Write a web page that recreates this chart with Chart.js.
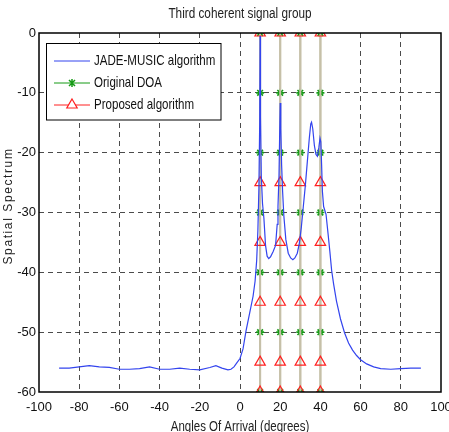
<!DOCTYPE html>
<html>
<head>
<meta charset="utf-8">
<script src="https://cdn.jsdelivr.net/npm/chart.js@4/dist/chart.umd.min.js"></script>
<style>
  html, body { margin: 0; padding: 0; background: #fff; }
  #wrap { width: 449px; height: 432px; }
</style>
</head>
<body>
<div id="wrap"><canvas id="chart" width="449" height="432"></canvas></div>
<script>
// spectrum
const angles = [-90, -85, -80, -75, -70, -65, -60, -55, -50, -45, -40, -35, -30, -25, -20, -15, -12, -9, -6, -4.5, -3, -1.5, 0,
  1.5, 3, 5, 6.5, 7.5, 8.3, 8.9, 9.4, 9.8, 10, 10.2, 10.6, 11.2, 11.9, 12.7, 13.5, 14.3, 15.2, 16.5, 17.7, 18.5, 18.9, 19.4, 19.8,
  20, 20.3, 20.7, 21.2, 21.8, 22.8, 24, 25.2, 26.3, 27.3, 28.5, 29.5, 30.5, 31.5, 32.5, 33.5, 34.5, 35.2, 35.6, 36.2, 37, 37.8,
  38.5, 39.2, 39.8, 40.2, 40.6, 41, 41.6, 42.8, 43.8, 44.7, 45.6, 46.6, 48, 50, 52, 54, 56, 58, 60, 63, 66.5, 70, 75, 80, 85, 90];
const spectrum = [-56.0, -56.0, -55.8, -55.6, -55.8, -55.9, -56.2, -56.2, -56.1, -55.8, -56.2, -56.2, -56.0, -56.2, -56.3, -55.9, -55.6, -56.0, -56.3, -56.2, -55.8, -55.1, -54.4,
  -52.8, -49.8, -46.5, -44.0, -41.5, -38.0, -33.0, -26.0, -15.0, -0.5, -14.0, -24.0, -28.5, -31.0, -35.5, -37.3, -37.7, -37.4, -36.5, -35.5, -32.0, -29.0, -24.0, -15.5,
  -11.7, -16.0, -22.0, -26.5, -30.5, -34.5, -36.8, -37.6, -37.9, -37.6, -36.8, -35.2, -32.5, -29.0, -25.5, -21.5, -17.5, -15.2, -14.9, -16.0, -18.8, -20.3,
  -20.6, -19.2, -17.6, -18.2, -22.0, -26.5, -29.0, -30.3, -33.5, -36.5, -39.7, -42.0, -44.8, -47.8, -50.1, -51.8, -53.0, -53.9, -54.6, -55.3, -55.8, -56.1, -56.2, -56.1, -56.0, -56.0];

const doaAngles = [10, 20, 30, 40];
const doaLevels = [0, -10, -20, -30, -40, -50, -60];
const proposedAngles = [10, 20, 30, 40];
const proposedLevels = [0, -25, -35, -45, -55, -60];

const xTicks = [-100, -80, -60, -40, -20, 0, 20, 40, 60, 80, 100];
const yTicks = [0, -10, -20, -30, -40, -50, -60];

const seriesNames = ['JADE-MUSIC algorithm', 'Original DOA', 'Proposed algorithm'];
const titleText = 'Third coherent signal group';
const xTitle = 'Angles Of Arrival (degrees)';
const yTitle = 'Spatial Spectrum';

const sans = "'Liberation Sans', Arial, sans-serif";
const BLUE = '#3344ee';
const GREEN = '#159a15';
const RED = '#ff2020';
const STEM = 'rgb(198,192,168)';

// vertical stems, one broken line per angle
function stems(list, levels) {
  const pts = [];
  list.forEach(a => {
    levels.forEach(l => pts.push({ x: a, y: l }));
    pts.push({ x: a, y: null });
  });
  return pts;
}

// squeezed text, to look like the narrow face of the original
function narrowText(ctx, text, x, y, size, align, squeeze) {
  ctx.save();
  ctx.translate(x, y);
  ctx.scale(squeeze || 0.82, 1);
  ctx.font = size + 'px ' + sans;
  ctx.textAlign = align;
  ctx.textBaseline = 'middle';
  ctx.fillText(text, 0, 0);
  ctx.restore();
}

const framePlugin = {
  id: 'frame',
  afterDraw(chart) {
    const ctx = chart.ctx;
    const a = chart.chartArea;
    ctx.save();
    // axes box
    ctx.strokeStyle = '#000';
    ctx.lineWidth = 1.5;
    ctx.strokeRect(a.left, a.top, a.right - a.left, a.bottom - a.top);

    // titles
    ctx.fillStyle = '#222';
    narrowText(ctx, titleText, (a.left + a.right) / 2, 14, 14, 'center', 0.84);
    narrowText(ctx, xTitle, (a.left + a.right) / 2, 427, 14, 'center');

    ctx.save();
    ctx.translate(9, 206);
    ctx.rotate(-Math.PI / 2);
    ctx.font = "12px " + sans;
    ctx.textAlign = 'center';
    ctx.textBaseline = 'middle';
    ctx.letterSpacing = '1.6px';
    ctx.fillText(yTitle, 0, 0);
    ctx.restore();

    // legend
    const lx = 46.5, ly = 43.5, lw = 174.5, lh = 76.5;
    ctx.fillStyle = '#fff';
    ctx.fillRect(lx, ly, lw, lh);
    ctx.strokeStyle = '#000';
    ctx.lineWidth = 1;
    ctx.strokeRect(lx, ly, lw, lh);
    const rows = [61, 83, 105];
    const cols = [BLUE, GREEN, RED];
    rows.forEach((y, i) => {
      ctx.strokeStyle = cols[i];
      ctx.lineWidth = 1;
      ctx.beginPath();
      ctx.moveTo(54, y);
      ctx.lineTo(90, y);
      ctx.stroke();
      ctx.fillStyle = '#111';
      narrowText(ctx, seriesNames[i], 94, y, 15, 'left', 0.77);
    });
    // legend markers
    ctx.strokeStyle = GREEN;
    ctx.lineWidth = 1.5;
    ctx.beginPath();
    ctx.moveTo(72, rows[1] - 4); ctx.lineTo(72, rows[1] + 4);
    ctx.moveTo(69, rows[1] - 3); ctx.lineTo(75, rows[1] + 3);
    ctx.moveTo(75, rows[1] - 3); ctx.lineTo(69, rows[1] + 3);
    ctx.stroke();
    ctx.strokeStyle = RED;
    ctx.lineWidth = 1.2;
    ctx.fillStyle = '#fff';
    ctx.beginPath();
    ctx.moveTo(72, rows[2] - 6);
    ctx.lineTo(77.2, rows[2] + 3);
    ctx.lineTo(66.8, rows[2] + 3);
    ctx.closePath();
    ctx.fill();
    ctx.stroke();
    ctx.restore();
  }
};

const ctx = document.getElementById('chart').getContext('2d');
new Chart(ctx, {
  type: 'line',
  data: {
    datasets: [
      {
        label: seriesNames[0],
        data: angles.map((a, i) => ({ x: a, y: spectrum[i] })),
        borderColor: BLUE,
        borderWidth: 1.2,
        pointRadius: 0,
        tension: 0,
        order: 0
      },
      {
        label: seriesNames[1],
        data: stems(doaAngles, doaLevels),
        borderColor: STEM,
        borderWidth: 2,
        spanGaps: false,
        pointStyle: 'star',
        pointRadius: 4,
        pointBorderColor: GREEN,
        pointBackgroundColor: GREEN,
        pointBorderWidth: 1.6,
        order: 2
      },
      {
        label: seriesNames[2],
        data: stems(proposedAngles, proposedLevels),
        borderColor: STEM,
        borderWidth: 2,
        spanGaps: false,
        pointStyle: 'triangle',
        pointRadius: 6,
        pointBorderColor: RED,
        pointBackgroundColor: 'rgba(255,255,255,0)',
        pointBorderWidth: 1.2,
        order: 1
      }
    ]
  },
  options: {
    responsive: false,
    animation: false,
    events: [],
    layout: { padding: { left: 0, right: 8, top: 33, bottom: 0 } },
    plugins: {
      legend: { display: false },
      tooltip: { enabled: false },
      title: { display: false }
    },
    scales: {
      x: {
        type: 'linear',
        min: -100,
        max: 100,
        afterBuildTicks: s => { s.ticks = xTicks.map(v => ({ value: v })); },
        afterFit: s => { s.height = 40; s.paddingLeft = 0; s.paddingRight = 0; },
        ticks: {
          color: '#111',
          padding: 8,
          maxRotation: 0,
          autoSkip: false,
          font: { family: sans, size: 13 }
        },
        border: { display: false, dash: [5, 4] },
        grid: {
          drawTicks: false,
          lineWidth: 1,
          color: c => (c.tick && (c.tick.value === -100 || c.tick.value === 100)) ? 'rgba(0,0,0,0)' : 'rgba(30,30,30,0.8)'
        }
      },
      y: {
        type: 'linear',
        min: -60,
        max: 0,
        afterBuildTicks: s => { s.ticks = yTicks.map(v => ({ value: v })); },
        afterFit: s => { s.width = 39; s.paddingTop = 0; s.paddingBottom = 0; },
        ticks: {
          color: '#111',
          padding: 3,
          autoSkip: false,
          font: { family: sans, size: 13 }
        },
        border: { display: false, dash: [5, 4] },
        grid: {
          drawTicks: false,
          lineWidth: 1,
          color: c => (c.tick && (c.tick.value === 0 || c.tick.value === -60)) ? 'rgba(0,0,0,0)' : 'rgba(30,30,30,0.8)'
        }
      }
    }
  },
  plugins: [framePlugin]
});
</script>
</body>
</html>
